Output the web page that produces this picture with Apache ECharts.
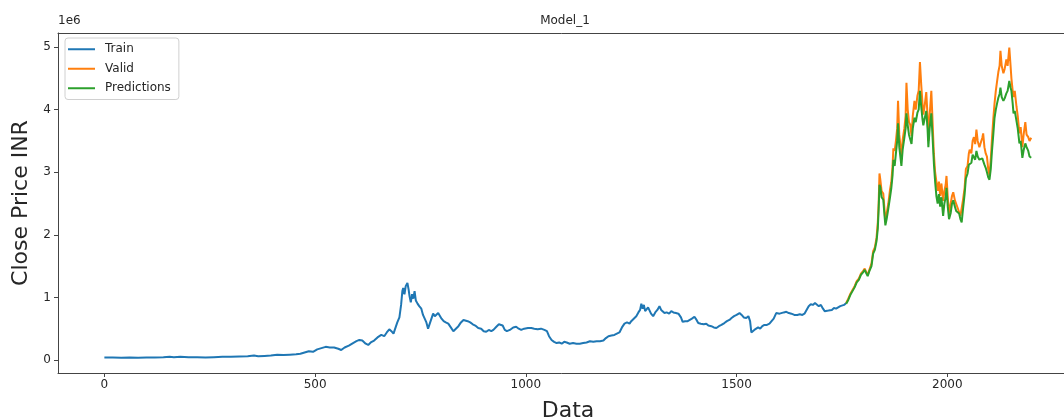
<!DOCTYPE html>
<html>
<head>
<meta charset="utf-8">
<script src="https://cdn.jsdelivr.net/npm/echarts@6/dist/echarts.min.js"></script>
<style>
  html, body { margin: 0; padding: 0; background: #fff; }
  #main { width: 1064px; height: 418px; }
</style>
</head>
<body>
<div id="main"></div>
<script>
// close price in units of 1e6, [day index, value]
var trainPoints = [
  [0,0.04],[20,0.04],[40,0.035],[60,0.04],[80,0.035],[100,0.04],[120,0.04],[140,0.045],[155,0.05],[165,0.045],
  [180,0.05],[200,0.045],[220,0.045],[240,0.04],[260,0.045],[280,0.05],[300,0.05],[320,0.055],[340,0.06],[355,0.07],
  [365,0.06],[380,0.065],[395,0.07],[410,0.085],[425,0.08],[440,0.085],[455,0.09],[465,0.1],[475,0.12],[485,0.14],
  [495,0.13],[505,0.17],[515,0.19],[525,0.21],[535,0.2],[545,0.2],[555,0.18],[562,0.16],[570,0.2],[580,0.23],
  [590,0.27],[598,0.3],[605,0.32],[612,0.31],[620,0.26],[626,0.24],[632,0.28],[640,0.31],[648,0.36],[657,0.40],
  [664,0.38],[670,0.44],[676,0.49],[681,0.46],[686,0.42],[690,0.5],[695,0.6],[700,0.68],[704,0.88],[707,1.1],
  [709,1.15],[712,1.05],[715,1.18],[719,1.23],[722,1.12],[724,1.02],[727,0.92],[730,1.05],[733,0.98],[736,1.1],
  [739,0.95],[743,0.9],[747,0.86],[752,0.82],[756,0.72],[760,0.66],[764,0.6],[768,0.5],[772,0.58],[776,0.66],
  [780,0.74],[784,0.7],[788,0.72],[792,0.75],[796,0.76],[800,0.66],[805,0.62],[810,0.6],[816,0.58],[822,0.52],
  [828,0.46],[834,0.5],[840,0.54],[846,0.6],[852,0.64],[856,0.66],[862,0.62],[868,0.6],[874,0.57],[880,0.55],
  [887,0.51],[894,0.5],[900,0.46],[906,0.45],[912,0.48],[918,0.46],[923,0.48],[930,0.53],[936,0.57],[940,0.59],
  [945,0.55],[950,0.48],[955,0.46],[962,0.48],[970,0.52],[977,0.53],[983,0.5],[989,0.48],[996,0.5],[1005,0.51],
  [1013,0.51],[1020,0.5],[1028,0.49],[1036,0.5],[1044,0.48],[1050,0.46],[1055,0.38],[1061,0.32],[1067,0.29],[1073,0.27],
  [1079,0.28],[1085,0.26],[1091,0.29],[1097,0.28],[1104,0.26],[1112,0.27],[1120,0.26],[1128,0.26],[1136,0.27],[1144,0.28],
  [1152,0.3],[1160,0.29],[1168,0.3],[1176,0.3],[1184,0.31],[1190,0.35],[1196,0.38],[1203,0.39],[1210,0.4],[1216,0.42],
  [1222,0.44],[1228,0.52],[1234,0.58],[1240,0.6],[1246,0.58],[1250,0.62],[1256,0.66],[1262,0.7],[1267,0.76],[1271,0.8],
  [1274,0.9],[1277,0.82],[1280,0.88],[1283,0.78],[1286,0.8],[1290,0.84],[1293,0.82],[1297,0.74],[1302,0.7],[1307,0.76],
  [1312,0.8],[1317,0.86],[1321,0.8],[1325,0.78],[1329,0.75],[1334,0.76],[1340,0.74],[1345,0.78],[1350,0.76],[1356,0.75],
  [1362,0.74],[1368,0.68],[1372,0.61],[1378,0.62],[1384,0.62],[1388,0.64],[1394,0.66],[1400,0.69],[1405,0.64],[1409,0.59],
  [1415,0.58],[1422,0.57],[1428,0.58],[1433,0.55],[1440,0.54],[1446,0.52],[1452,0.51],[1458,0.54],[1464,0.56],[1471,0.59],
  [1477,0.62],[1483,0.64],[1488,0.67],[1494,0.7],[1500,0.72],[1507,0.75],[1512,0.72],[1517,0.68],[1523,0.67],[1528,0.7],
  [1532,0.62],[1535,0.44],[1538,0.42],[1542,0.48],[1546,0.46],[1551,0.52],[1556,0.5],[1561,0.54],[1566,0.56],[1572,0.56],
  [1578,0.58],[1582,0.6],[1588,0.66],[1594,0.75],[1598,0.72],[1602,0.74],[1606,0.72],[1612,0.76],[1618,0.77],[1624,0.75],
  [1630,0.74],[1637,0.72],[1644,0.72],[1650,0.73],[1656,0.72],[1661,0.74],[1666,0.8],[1671,0.86],[1676,0.89],[1681,0.88],
  [1686,0.91],[1690,0.9],[1695,0.86],[1700,0.88],[1705,0.82],[1709,0.78],[1713,0.8],[1718,0.79],[1722,0.82],[1726,0.8],
  [1731,0.83],[1736,0.82],[1741,0.84],[1746,0.86],[1750,0.84],[1755,0.88],[1760,0.91]
];

var validPoints = [
  [1760,0.91],[1765,0.98],[1770,1.06],[1775,1.12],[1780,1.18],[1785,1.26],[1790,1.3],[1795,1.38],[1800,1.42],[1804,1.46],
  [1808,1.4],[1811,1.36],[1815,1.44],[1820,1.54],[1824,1.74],[1828,1.8],[1832,1.95],[1835,2.2],[1837,2.5],[1839,2.98],
  [1841,2.88],[1844,2.7],[1848,2.66],[1851,2.4],[1853,2.2],[1856,2.34],[1860,2.5],[1864,2.72],[1867,2.84],[1870,3.1],
  [1872,3.38],[1875,3.34],[1878,3.5],[1881,3.7],[1883,4.14],[1886,3.6],[1889,3.4],[1891,3.2],[1894,3.52],[1898,3.7],
  [1901,3.9],[1903,4.43],[1906,4.0],[1909,3.8],[1912,3.76],[1915,3.58],[1918,3.9],[1922,4.14],[1925,4.0],[1929,4.22],
  [1932,4.3],[1935,4.76],[1938,4.4],[1941,4.1],[1943,3.92],[1946,4.05],[1950,4.28],[1953,3.9],[1955,3.5],[1958,3.9],
  [1962,4.3],[1965,3.8],[1968,3.3],[1971,3.0],[1974,2.98],[1977,2.7],[1980,2.85],[1983,2.62],[1986,2.82],[1990,2.54],
  [1993,2.7],[1996,2.8],[1998,2.94],[2001,2.6],[2004,2.35],[2008,2.5],[2011,2.62],[2014,2.68],[2018,2.55],[2021,2.54],
  [2025,2.42],[2028,2.4],[2031,2.3],[2034,2.3],[2037,2.55],[2041,2.75],[2044,3.05],[2048,3.1],[2051,3.3],[2053,3.36],
  [2057,3.3],[2060,3.5],[2063,3.56],[2066,3.45],[2069,3.68],[2072,3.5],[2076,3.4],[2080,3.42],[2083,3.55],[2085,3.62],
  [2088,3.4],[2091,3.3],[2094,3.25],[2097,3.05],[2100,2.95],[2103,3.2],[2106,3.55],[2109,3.85],[2112,4.1],[2115,4.3],
  [2118,4.45],[2121,4.6],[2124,4.7],[2126,4.94],[2129,4.7],[2133,4.58],[2136,4.65],[2140,4.8],[2143,4.7],[2147,4.99],
  [2150,4.7],[2152,4.5],[2155,4.3],[2157,4.2],[2160,4.3],[2164,4.05],[2167,3.9],[2171,3.62],[2174,3.72],[2178,3.4],
  [2181,3.6],[2185,3.8],[2188,3.6],[2192,3.56],[2195,3.5],[2199,3.55]
];

var predPoints = [
  [1760,0.9],[1765,0.96],[1770,1.04],[1775,1.1],[1780,1.16],[1785,1.24],[1790,1.28],[1795,1.36],[1800,1.4],[1804,1.44],
  [1808,1.38],[1811,1.34],[1815,1.42],[1820,1.5],[1824,1.7],[1828,1.76],[1832,1.9],[1835,2.1],[1837,2.4],[1839,2.8],
  [1841,2.76],[1844,2.6],[1848,2.56],[1851,2.3],[1853,2.15],[1856,2.25],[1860,2.42],[1864,2.6],[1867,2.74],[1870,2.95],
  [1872,3.2],[1875,3.1],[1878,3.3],[1881,3.5],[1883,3.78],[1886,3.4],[1889,3.22],[1891,3.1],[1894,3.36],[1898,3.55],
  [1901,3.7],[1903,3.94],[1906,3.75],[1909,3.6],[1912,3.58],[1915,3.45],[1918,3.7],[1922,3.87],[1925,3.8],[1929,3.95],
  [1932,4.0],[1935,4.3],[1938,4.05],[1941,3.85],[1943,3.75],[1946,3.85],[1950,3.98],[1953,3.7],[1955,3.4],[1958,3.7],
  [1962,3.94],[1965,3.55],[1968,3.15],[1971,2.85],[1974,2.62],[1977,2.5],[1980,2.65],[1983,2.45],[1986,2.6],[1990,2.3],
  [1993,2.5],[1996,2.6],[1998,2.75],[2001,2.45],[2004,2.25],[2008,2.35],[2011,2.5],[2014,2.55],[2018,2.45],[2021,2.38],
  [2025,2.35],[2028,2.34],[2031,2.25],[2034,2.2],[2037,2.4],[2041,2.65],[2044,2.9],[2048,2.98],[2051,3.12],[2053,3.14],
  [2057,3.15],[2060,3.28],[2063,3.3],[2066,3.2],[2069,3.34],[2072,3.25],[2076,3.2],[2080,3.2],[2083,3.22],[2085,3.18],
  [2088,3.12],[2091,3.07],[2094,3.0],[2097,2.92],[2100,2.88],[2103,3.05],[2106,3.35],[2109,3.6],[2112,3.87],[2115,4.0],
  [2118,4.1],[2121,4.19],[2124,4.25],[2126,4.35],[2129,4.2],[2133,4.14],[2136,4.18],[2140,4.26],[2143,4.3],[2147,4.46],
  [2150,4.35],[2152,4.3],[2155,4.1],[2157,3.94],[2160,3.98],[2164,3.82],[2167,3.7],[2171,3.46],[2174,3.5],[2178,3.23],
  [2181,3.35],[2185,3.46],[2188,3.4],[2192,3.34],[2195,3.25],[2199,3.23]
];

var xTicks = [0, 500, 1000, 1500, 2000];
var yTicks = [0, 1, 2, 3, 4, 5];

var font = 'DejaVu Sans';
var ink = '#262626';
var spine = '#444';

var chart = echarts.init(document.getElementById('main'), null, { renderer: 'canvas' });

var option = {
    animation: false,
    backgroundColor: '#fff',
    color: ['#1f77b4', '#ff7f0e', '#2ca02c'],
    title: {
        text: 'Model_1',
        left: 560,
        top: 10,
        textAlign: 'center',
        textStyle: { fontFamily: font, fontSize: 12, fontWeight: 'normal', color: ink }
    },
    graphic: [
        {
            type: 'text',
            left: 58,
            top: 15,
            style: { text: '1e6', font: '12px "DejaVu Sans"', fill: ink }
        }
    ],
    legend: {
        orient: 'vertical',
        left: 65,
        top: 38,
        padding: [4, 8, 4, 3],
        itemGap: 5,
        itemWidth: 27,
        itemHeight: 2,
        icon: 'rect',
        borderColor: '#d0d0d0',
        borderWidth: 1,
        borderRadius: 3,
        textStyle: { fontFamily: font, fontSize: 12, color: ink, lineHeight: 14.5, padding: [0, 0, 0, 5] },
        data: ['Train', 'Valid', 'Predictions']
    },
    grid: {
        left: 58,
        top: 33,
        width: 1020,
        height: 340,
        outerBoundsMode: 'none',
        containLabel: false,
        show: false
    },
    xAxis: [
        {
            type: 'value',
            min: -110,
            max: 2310,
            name: 'Data',
            nameLocation: 'middle',
            nameGap: 27,
            nameTextStyle: { fontFamily: font, fontSize: 22, color: ink },
            splitLine: { show: false },
            axisLine: { show: true, onZero: false, lineStyle: { color: spine } },
            axisTick: { show: true, length: 4, customValues: xTicks, lineStyle: { color: spine } },
            axisLabel: {
                customValues: xTicks, margin: 6, fontFamily: font, fontSize: 12, color: ink,
                formatter: function (v) { return String(v); }
            }
        },
        {
            type: 'value',
            position: 'top',
            min: -110,
            max: 2310,
            splitLine: { show: false },
            axisLine: { show: true, onZero: false, lineStyle: { color: spine } },
            axisTick: { show: false },
            axisLabel: { show: false }
        }
    ],
    yAxis: {
        type: 'value',
        min: -0.208,
        max: 5.224,
        name: 'Close Price INR',
        nameLocation: 'middle',
        nameGap: 25,
        nameTextStyle: { fontFamily: font, fontSize: 22, color: ink },
        splitLine: { show: false },
        axisLine: { show: true, onZero: false, lineStyle: { color: spine } },
        axisTick: { show: true, length: 4, customValues: yTicks, lineStyle: { color: spine } },
        axisLabel: { customValues: yTicks, margin: 7, fontFamily: font, fontSize: 12, color: ink }
    },
    series: [
        {
            name: 'Train',
            type: 'line',
            data: trainPoints,
            symbol: 'none',
            lineStyle: { width: 2 }
        },
        {
            name: 'Valid',
            type: 'line',
            data: validPoints,
            symbol: 'none',
            lineStyle: { width: 2 }
        },
        {
            name: 'Predictions',
            type: 'line',
            data: predPoints,
            symbol: 'none',
            lineStyle: { width: 2 }
        }
    ]
};
chart.setOption(option);
</script>
</body>
</html>
